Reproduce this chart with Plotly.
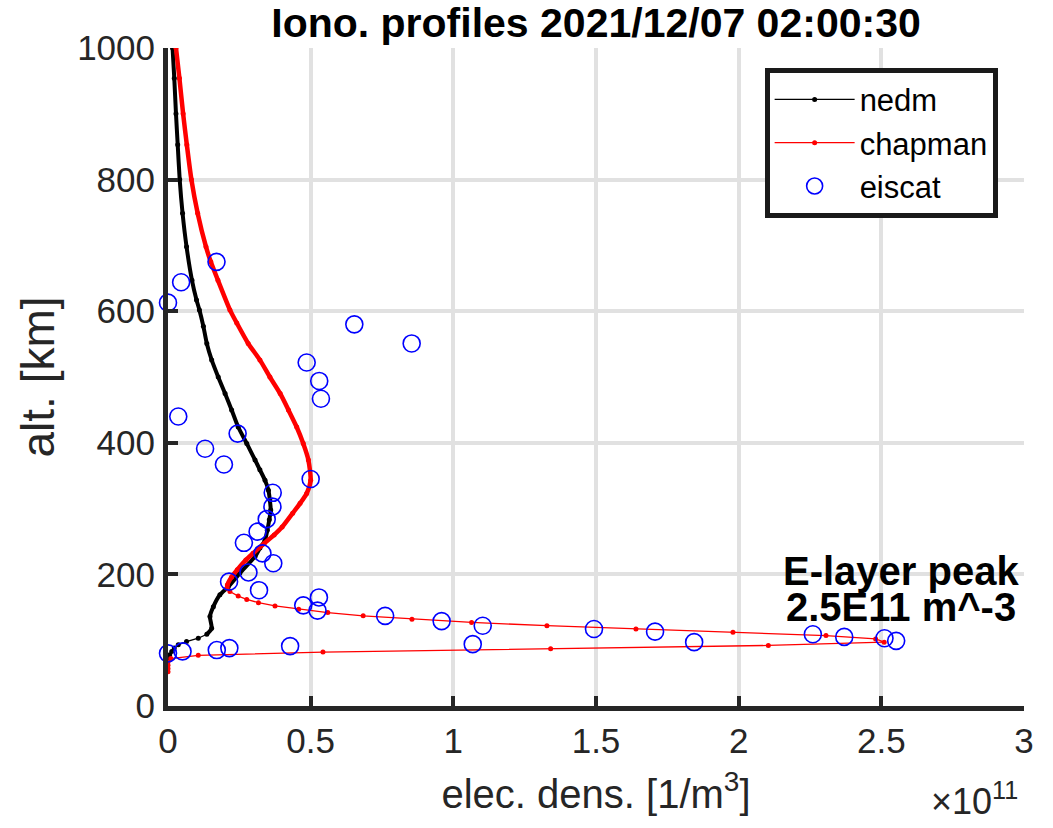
import plotly.graph_objects as go

# ---- data (electron density in units of 1e11 m^-3, altitude in km) ----
alt_nedm = [1000, 954, 900, 853, 800, 749, 698, 647, 617, 602, 577, 551, 526, 500, 475,
            450, 424, 399, 374, 359, 343, 328, 313, 298, 283, 267, 252, 240, 227, 202,
            181, 169, 151, 136, 118, 109, 103, 98, 93, 88, 83, 78, 70]
dens_nedm = [0.016, 0.022, 0.028, 0.034, 0.041, 0.051, 0.065, 0.084, 0.100, 0.110,
             0.124, 0.136, 0.153, 0.176, 0.200, 0.223, 0.246, 0.276, 0.305, 0.322,
             0.340, 0.352, 0.357, 0.360, 0.355, 0.348, 0.340, 0.322, 0.305, 0.252,
             0.211, 0.182, 0.159, 0.147, 0.153, 0.136, 0.106, 0.065, 0.036, 0.022,
             0.013, 0.006, 0.0]

alt_chap = [1000, 954, 900, 853, 800, 749, 698, 675, 647, 602, 582, 551, 526, 500, 475,
            450, 424, 399, 374, 343, 323, 308, 293, 272, 260, 247, 232, 222, 207, 196,
            184, 179, 174, 167, 162, 157, 152, 147, 142, 137, 132, 127, 122, 117, 112,
            107, 102, 97, 92, 87, 82, 77, 72, 67, 62, 57, 52]
dens_chap = [0.028, 0.040, 0.053, 0.066, 0.082, 0.104, 0.133, 0.150, 0.175, 0.217,
             0.241, 0.281, 0.322, 0.357, 0.393, 0.422, 0.451, 0.474, 0.492, 0.500,
             0.486, 0.463, 0.437, 0.400, 0.372, 0.337, 0.298, 0.273, 0.243, 0.223,
             0.208, 0.207, 0.217, 0.246, 0.276, 0.317, 0.375, 0.458, 0.560, 0.684,
             0.855, 1.064, 1.328, 1.640, 1.980, 2.306, 2.480, 2.510, 2.104, 1.341,
             0.543, 0.106, 0.010, 0.0, 0.0, 0.0, 0.0]

alt_eis = [613, 644, 675, 580, 551, 522, 494, 467, 440, 414, 391, 367, 345, 324, 303,
           284, 265, 248, 232, 217, 203, 189, 176, 165, 153, 145, 137, 129, 122, 117,
           113, 109, 105, 103, 99, 97, 94, 91, 88, 85, 83, 80]
dens_eis = [0.0, 0.046, 0.170, 0.653, 0.854, 0.486, 0.530, 0.536, 0.036, 0.244, 0.130,
            0.196, 0.500, 0.367, 0.366, 0.346, 0.314, 0.266, 0.331, 0.369, 0.282, 0.214,
            0.319, 0.529, 0.474, 0.524, 0.761, 0.959, 1.103, 1.493, 1.707, 2.260, 2.370,
            2.511, 2.552, 1.844, 1.068, 0.428, 0.215, 0.171, 0.051, 0.0]

x_ticks = [0, 0.5, 1, 1.5, 2, 2.5, 3]
x_tick_text = ["0", "0.5", "1", "1.5", "2", "2.5", "3"]
y_ticks = [0, 200, 400, 600, 800, 1000]

FONT = "Liberation Sans, Arial, Helvetica, sans-serif"
AX = "#262626"

# dense-sample (thick-looking) parts of the model curves
n_thick = [i for i, a in enumerate(alt_nedm) if a >= 109]
c_thick = [i for i, a in enumerate(alt_chap) if a >= 179]

fig = go.Figure()
fig.add_trace(go.Scatter(x=[dens_nedm[i] for i in n_thick], y=[alt_nedm[i] for i in n_thick],
                         mode="lines", line=dict(color="black", width=4, shape="spline",
                                                 smoothing=0.6),
                         showlegend=False, hoverinfo="skip"))
fig.add_trace(go.Scatter(x=dens_nedm, y=alt_nedm, name="nedm", mode="lines+markers",
                         line=dict(color="black", width=1.3),
                         marker=dict(color="black", size=5)))
fig.add_trace(go.Scatter(x=[dens_chap[i] for i in c_thick], y=[alt_chap[i] for i in c_thick],
                         mode="lines", line=dict(color="red", width=4.5, shape="spline",
                                                 smoothing=0.6),
                         showlegend=False, hoverinfo="skip"))
fig.add_trace(go.Scatter(x=dens_chap, y=alt_chap, name="chapman", mode="lines+markers",
                         line=dict(color="red", width=1.3),
                         marker=dict(color="red", size=5)))
fig.add_trace(go.Scatter(x=dens_eis, y=alt_eis, name="eiscat", mode="markers",
                         marker=dict(symbol="circle-open", color="#0000ff", size=17,
                                     line=dict(width=1.6, color="#0000ff")),
                         cliponaxis=False))

fig.update_layout(
    width=1053, height=828,
    margin=dict(l=168, r=29, t=48, b=122),
    paper_bgcolor="white", plot_bgcolor="white",
    font=dict(family=FONT, color=AX),
    title=dict(text="<b>Iono. profiles 2021/12/07 02:00:30</b>",
               font=dict(size=41, color="black", family=FONT),
               x=0.5, xref="paper", xanchor="center",
               y=1 - 23 / 828, yref="container", yanchor="middle"),
    xaxis=dict(range=[0, 3], tickvals=x_ticks, ticktext=x_tick_text,
               showgrid=True, gridcolor="#e1e1e1", gridwidth=3.5,
               showline=True, linecolor=AX, linewidth=5, mirror=False,
               ticks="inside", ticklen=10, tickwidth=4, tickcolor=AX,
               tickfont=dict(size=35, color=AX, family=FONT),
               zeroline=False,
               title=dict(text="elec. dens. [1/m<sup>3</sup>]",
                          font=dict(size=40, color=AX, family=FONT), standoff=22)),
    yaxis=dict(range=[0, 1000], tickvals=y_ticks,
               showgrid=True, gridcolor="#e1e1e1", gridwidth=3.5,
               showline=True, linecolor=AX, linewidth=5, mirror=False,
               ticks="inside", ticklen=10, tickwidth=4, tickcolor=AX,
               tickfont=dict(size=35, color=AX, family=FONT),
               zeroline=False, ticklabelstandoff=1,
               title=dict(text="alt. [km]",
                          font=dict(size=46, color=AX, family=FONT), standoff=10)),
    legend=dict(x=0.697, y=0.97, xanchor="left", yanchor="top",
                bgcolor="white", bordercolor="#1a1a1a", borderwidth=5,
                font=dict(size=31, color="black", family=FONT),
                itemwidth=80, tracegroupgap=0),
    annotations=[
        dict(text="<b>E-layer peak</b>", x=2.57, y=205, xref="x", yref="y",
             showarrow=False, xanchor="center", yanchor="middle",
             font=dict(size=40, color="black", family=FONT)),
        dict(text="<b>2.5E11 m^-3</b>", x=2.57, y=151, xref="x", yref="y",
             showarrow=False, xanchor="center", yanchor="middle",
             font=dict(size=40, color="black", family=FONT)),
        dict(text="×10<sup>11</sup>", x=0.942, y=-0.142, xref="paper", yref="paper",
             showarrow=False, xanchor="center", yanchor="middle",
             font=dict(size=36, color=AX, family=FONT)),
    ],
)

fig.write_html("out.html")
